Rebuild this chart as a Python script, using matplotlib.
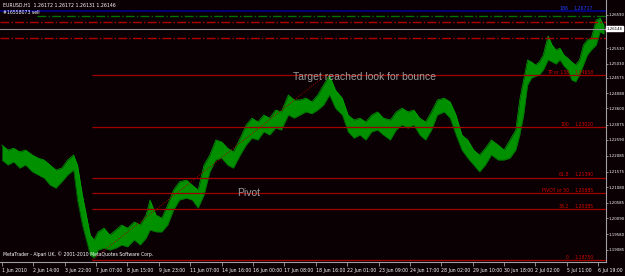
import matplotlib
matplotlib.use("Agg")
import matplotlib.pyplot as plt

# --- data (EURUSD H1) ---
hours = [0, 6, 12, 18, 24, 31, 37, 43, 49, 55, 61, 67, 73, 77, 82, 86, 90, 94, 98, 104,
         110, 116, 122, 128, 135, 141, 147, 151, 157, 163, 169, 175, 181, 188, 194, 200,
         206, 212, 218, 224, 230, 236, 243, 249, 255, 261, 267, 273, 279, 285, 292, 298,
         304, 310, 316, 322, 328, 334, 340, 347, 353, 359, 365, 371, 377, 383, 389, 396,
         402, 408, 414, 420, 426, 432, 438, 444, 451, 457, 463, 469, 475, 481, 487, 493,
         499, 506, 512, 518, 524, 528, 532, 536, 540, 544, 548, 552, 557, 561, 565, 569,
         573, 577, 581, 585, 589, 593, 597, 601, 606, 610, 614]
high = [1.2243, 1.2227, 1.2233, 1.2221, 1.2227, 1.2211, 1.2201, 1.2195, 1.2179, 1.2163,
        1.2169, 1.2195, 1.2211, 1.2179, 1.2083, 1.2019, 1.1955, 1.1939, 1.1965, 1.1977,
        1.1955, 1.1971, 1.1987, 1.1977, 1.1997, 1.1987, 1.2019, 1.2067, 1.2019, 1.2009,
        1.2051, 1.2099, 1.2125, 1.2131, 1.2115, 1.2099, 1.2179, 1.2211, 1.2259, 1.2253,
        1.2233, 1.2221, 1.2265, 1.2307, 1.2329, 1.2317, 1.2339, 1.2329, 1.2355, 1.2349,
        1.2403, 1.2387, 1.2387, 1.2393, 1.2381, 1.2403, 1.2435, 1.2467, 1.2419, 1.2393,
        1.2339, 1.2323, 1.2329, 1.2317, 1.2339, 1.2349, 1.2329, 1.2323, 1.2349, 1.2361,
        1.2349, 1.2355, 1.2329, 1.2317, 1.2349, 1.2387, 1.2393, 1.2381, 1.2339, 1.2275,
        1.2259, 1.2227, 1.2211, 1.2233, 1.2259, 1.2243, 1.2227, 1.2259, 1.2291, 1.2387,
        1.2451, 1.2515, 1.2509, 1.2499, 1.2509, 1.2531, 1.2592, 1.2563, 1.2547, 1.2553,
        1.2531, 1.2521, 1.2509, 1.2499, 1.2515, 1.2563, 1.2579, 1.2585, 1.2643, 1.2649,
        1.2624]
low = [1.2195, 1.2179, 1.2189, 1.2169, 1.2179, 1.2157, 1.2147, 1.2137, 1.2115, 1.2105,
       1.2125, 1.2147, 1.2163, 1.2067, 1.1987, 1.1939, 1.1891, 1.1881, 1.1907, 1.1913,
       1.1907, 1.1913, 1.1923, 1.1917, 1.1939, 1.1923, 1.1945, 1.1971, 1.1965, 1.1965,
       1.1987, 1.2035, 1.2067, 1.2073, 1.2067, 1.2041, 1.2083, 1.2157, 1.2195, 1.2201,
       1.2179, 1.2169, 1.2211, 1.2243, 1.2265, 1.2259, 1.2285, 1.2275, 1.2297, 1.2291,
       1.2339, 1.2329, 1.2339, 1.2349, 1.2343, 1.2355, 1.2371, 1.2403, 1.2361, 1.2339,
       1.2285, 1.2265, 1.2275, 1.2259, 1.2285, 1.2291, 1.2275, 1.2259, 1.2291, 1.2307,
       1.2297, 1.2307, 1.2275, 1.2259, 1.2291, 1.2339, 1.2349, 1.2329, 1.2275, 1.2227,
       1.2201, 1.2179, 1.2157, 1.2179, 1.2211, 1.2195, 1.2195, 1.2201, 1.2227, 1.2275,
       1.2339, 1.2435, 1.2457, 1.2463, 1.2467, 1.2483, 1.2515, 1.2509, 1.2502, 1.2515,
       1.2496, 1.2483, 1.2451, 1.2445, 1.2467, 1.2499, 1.2531, 1.2547, 1.2563, 1.2605,
       1.2598]

fib_names = ["0", "38.2", "PIVOT or 50", "61.8", "100", "TP or 138"]
fib_prices = [1.18750, 1.20385, 1.20885, 1.21390, 1.23020, 1.24658]
fib_start = 92          # hour of the swing low
fib_end = 334           # hour where target was hit
top_name, top_price = "186", 1.26717

order_label = "#16558073 sell"
order_open = 1.2656
order_sl = 1.2637
order_tp = 1.2585
bid = 1.26146

ytick_vals = [1.26590, 1.25530, 1.25030, 1.24575, 1.24080, 1.23600, 1.23075, 1.22590,
              1.22085, 1.21575, 1.21080, 1.20585, 1.20090, 1.19580, 1.19085]
xtick_hours = list(range(0, 609, 32))
xtick_labels = ["1 Jun 2010", "2 Jun 14:00", "3 Jun 22:00", "7 Jun 07:00", "8 Jun 15:00",
                "9 Jun 23:00", "11 Jun 07:00", "14 Jun 16:00", "16 Jun 00:00", "17 Jun 08:00",
                "18 Jun 16:00", "22 Jun 01:00", "23 Jun 09:00", "24 Jun 17:00", "28 Jun 02:00",
                "29 Jun 10:00", "30 Jun 18:00", "2 Jul 02:00", "5 Jul 11:00", "6 Jul 19:00"]

BG = "#0a0003"
RED = "#a00000"
FS = 3.3
SMALL = ["Liberation Sans Narrow", "DejaVu Sans"]

plt.rcParams["font.family"] = ["Liberation Sans", "DejaVu Sans"]

fig = plt.figure(figsize=(6.25, 2.76), dpi=100, facecolor=BG)
ax = fig.add_axes([0, 14 / 276, 606 / 625, 262 / 276], facecolor=BG)
ax.set_xlim(-2, 616)
ax.set_ylim(1.18686, 1.2707)

# price bars
ax.fill_between(hours, low, high, color="#009000", linewidth=0)
ax.plot(hours, high, color="#00a800", linewidth=0.5)
ax.plot(hours, low, color="#006a00", linewidth=0.5)

# fib levels
for name, p in zip(fib_names, fib_prices):
    ax.hlines(p, fib_start, 616, color=RED, linewidth=0.9)
    ax.text(578, p, name, color="#d00000", fontsize=FS, family=SMALL, ha="right", va="bottom")
    ax.text(603, p, f"{p:.5f}", color="#d00000", fontsize=FS, family=SMALL, ha="right",
            va="bottom")
ax.plot([fib_start, fib_end - 4], [fib_prices[0], fib_prices[-1]], color=RED,
        linestyle=(0, (1, 1.5)), linewidth=0.7)

# top level + order lines
ax.axhline(top_price, color="#000090", linewidth=1.2)
ax.text(578, top_price, top_name, color="#2040ff", fontsize=FS, family=SMALL, ha="right",
        va="bottom")
ax.text(603, top_price, f"{top_price:.5f}", color="#2040ff", fontsize=FS, family=SMALL,
        ha="right", va="bottom")
ax.hlines(order_open, 36, 616, color="#007000", linewidth=1.0, linestyle="-.")
ax.axhline(order_sl, color="#b00000", linewidth=1.0, linestyle="-.")
ax.axhline(order_tp, color="#b00000", linewidth=1.0, linestyle="-.")
ax.axhline(bid, color="#909090", linewidth=0.8)

# annotations
ax.text(297, 1.2461, "Target reached look for bounce", color="#9a9a9a", fontsize=7.5,
        va="center")
ax.text(240, 1.2089, "Pivot", color="#9a9a9a", fontsize=7.5, va="center")
ax.text(3 / 606, 1 - 5 / 262, "EURUSD,H1  1.26172 1.26172 1.26131 1.26146",
        transform=ax.transAxes, color="white", fontsize=FS, family=SMALL, va="center")
ax.text(3 / 606, 1 - 13 / 262, order_label, transform=ax.transAxes, color="white",
        fontsize=FS, family=SMALL, va="center")
ax.text(3 / 606, 8 / 262, "MetaTrader - Alpari UK, \u00a9 2001-2010 MetaQuotes Software Corp.",
        transform=ax.transAxes, color="white", fontsize=FS, family=SMALL, va="center")

# axes styling
for side in ["left", "top"]:
    ax.spines[side].set_visible(False)
for side in ["right", "bottom"]:
    ax.spines[side].set_color("#a0a0a0")
    ax.spines[side].set_linewidth(0.8)

ax.yaxis.tick_right()
ax.set_yticks(ytick_vals)
ax.set_yticklabels([f"{v:.5f}" for v in ytick_vals], family=SMALL)
ax.tick_params(axis="y", colors="#a0a0a0", labelcolor="white", labelsize=2.8, length=1.2,
               width=0.6, pad=0.4)
ax.set_xticks(xtick_hours)
ax.set_xticklabels(xtick_labels, ha="left", family=SMALL)
ax.tick_params(axis="x", colors="#a0a0a0", labelcolor="white", labelsize=FS, length=3,
               width=0.6, pad=1.5)

ax.text(1.001, bid, f"{bid:.5f}", transform=ax.get_yaxis_transform(), color="black",
        fontsize=2.8, family=SMALL, va="center", ha="left",
        bbox=dict(facecolor="white", edgecolor="white", pad=0.3))

fig.savefig("out.png", dpi=100, facecolor=BG)
